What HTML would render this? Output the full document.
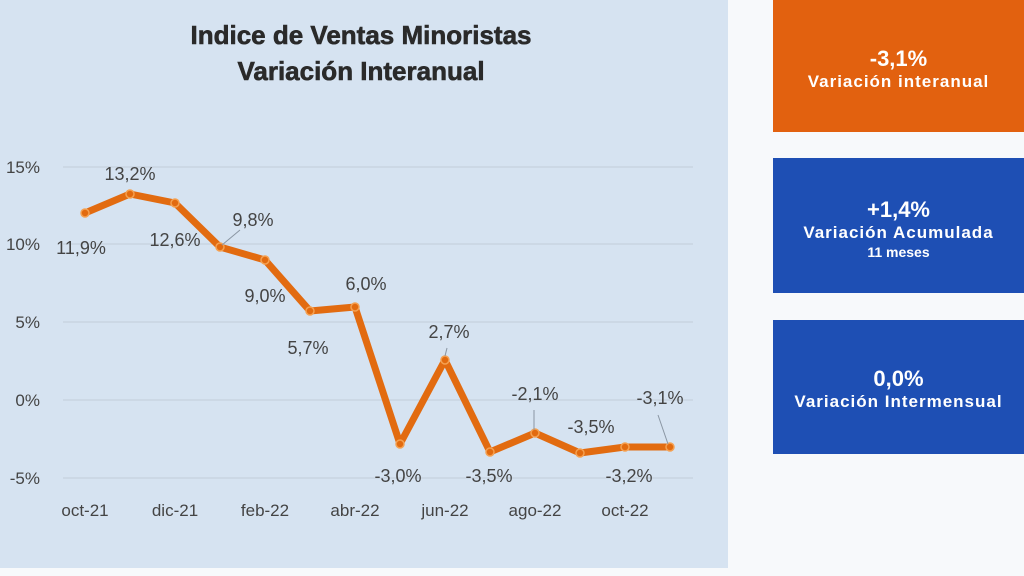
<!DOCTYPE html>
<html><head><meta charset="utf-8"><style>
body{margin:0;width:1024px;height:576px;background:#f7f9fb;overflow:hidden;font-family:"Liberation Sans",sans-serif;position:relative}
.chart{position:absolute;left:0;top:0;width:728px;height:568px;background:#d6e3f1}
.box{position:absolute;left:773px;width:251px;color:#fff;text-align:center;font-weight:bold}
.box .v{font-size:22px;line-height:24px}
.box .l{font-size:17px;letter-spacing:1px;line-height:22px}
</style></head><body>
<div class="chart">
<svg width="728" height="568" font-family="Liberation Sans, sans-serif">
<text x="361" y="44" text-anchor="middle" font-size="26" font-weight="bold" fill="#2a2a2a" stroke="#2a2a2a" stroke-width="0.6">Indice de Ventas Minoristas</text>
<text x="361" y="80" text-anchor="middle" font-size="26" font-weight="bold" fill="#2a2a2a" stroke="#2a2a2a" stroke-width="0.6">Variación Interanual</text>
<g stroke="#c3ced9" stroke-width="1">
<line x1="63" x2="693" y1="167" y2="167"/><line x1="63" x2="693" y1="244" y2="244"/>
<line x1="63" x2="693" y1="322" y2="322"/><line x1="63" x2="693" y1="400" y2="400"/>
<line x1="63" x2="693" y1="478" y2="478"/></g>
<g font-size="17" fill="#444" text-anchor="end">
<text x="40" y="173">15%</text><text x="40" y="250">10%</text><text x="40" y="328">5%</text>
<text x="40" y="406">0%</text><text x="40" y="484">-5%</text></g>
<g font-size="17" fill="#444" text-anchor="middle">
<text x="85" y="516">oct-21</text><text x="175" y="516">dic-21</text><text x="265" y="516">feb-22</text>
<text x="355" y="516">abr-22</text><text x="445" y="516">jun-22</text><text x="535" y="516">ago-22</text><text x="625" y="516">oct-22</text></g>
<polyline fill="none" stroke="#e26b10" stroke-width="7" stroke-linejoin="round" points="85,213 130,194 175,203 220,247 265,260 310,311 355,307 400,444 445,360 490,452 535,433 580,453 625,447 670,447"/>
<g fill="#e26b10" stroke="#f5a050" stroke-width="1.5">
<circle cx="85" cy="213" r="4"/><circle cx="130" cy="194" r="4"/><circle cx="175" cy="203" r="4"/><circle cx="220" cy="247" r="4"/><circle cx="265" cy="260" r="4"/><circle cx="310" cy="311" r="4"/><circle cx="355" cy="307" r="4"/><circle cx="400" cy="444" r="4"/><circle cx="445" cy="360" r="4"/><circle cx="490" cy="452" r="4"/><circle cx="535" cy="433" r="4"/><circle cx="580" cy="453" r="4"/><circle cx="625" cy="447" r="4"/><circle cx="670" cy="447" r="4"/></g>
<g stroke="#8a96a3" stroke-width="1"><line x1="222" y1="245" x2="240" y2="230"/><line x1="445" y1="356" x2="447" y2="348"/><line x1="534" y1="430" x2="534" y2="410"/><line x1="668" y1="444" x2="658" y2="415"/></g>
<g font-size="18" fill="#444" text-anchor="middle">
<text x="81" y="254">11,9%</text><text x="130" y="180">13,2%</text><text x="175" y="246">12,6%</text>
<text x="253" y="226">9,8%</text><text x="265" y="302">9,0%</text><text x="308" y="354">5,7%</text>
<text x="366" y="290">6,0%</text><text x="398" y="482">-3,0%</text><text x="449" y="338">2,7%</text>
<text x="489" y="482">-3,5%</text><text x="535" y="400">-2,1%</text><text x="591" y="433">-3,5%</text>
<text x="629" y="482">-3,2%</text><text x="660" y="404">-3,1%</text></g>
</svg></div>
<div class="box" style="top:0;height:132px;background:#e2610f"><div style="margin-top:47px" class="v">-3,1%</div><div class="l">Variación interanual</div></div>
<div class="box" style="top:158px;height:135px;background:#1e4fb4"><div style="margin-top:40px" class="v">+1,4%</div><div class="l">Variación Acumulada</div><div style="font-size:14px;line-height:16px">11 meses</div></div>
<div class="box" style="top:320px;height:134px;background:#1e4fb4"><div style="margin-top:47px" class="v">0,0%</div><div class="l">Variación Intermensual</div></div>
</body></html>
